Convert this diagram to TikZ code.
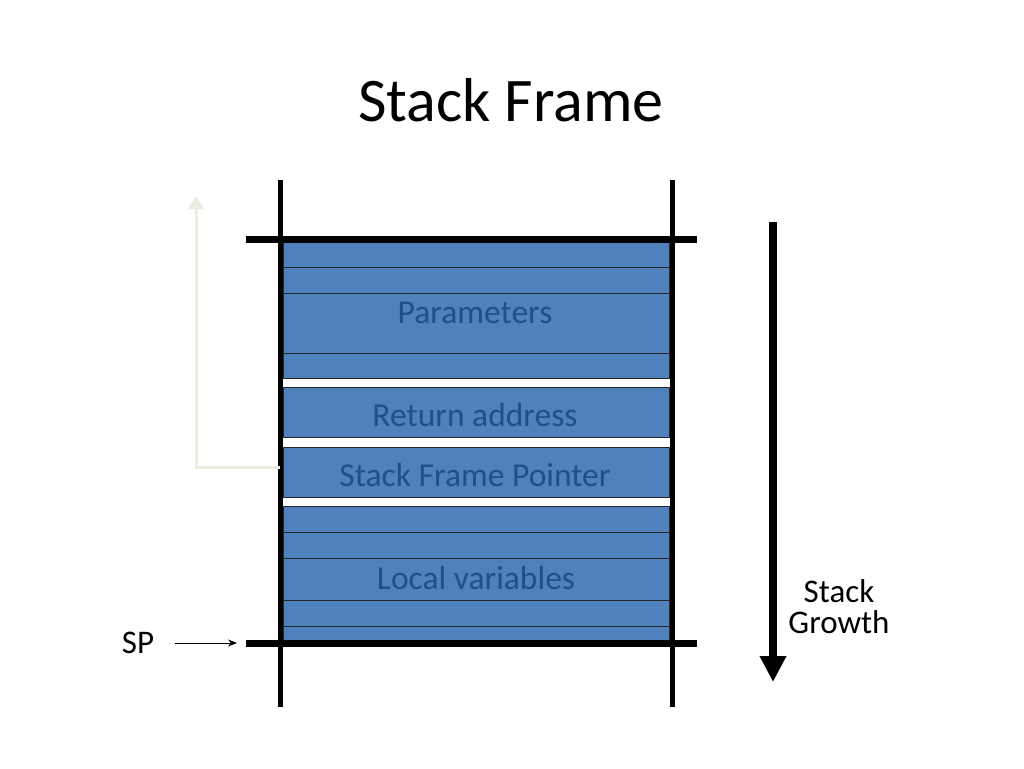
\documentclass[tikz,border=0pt]{standalone}
\usepackage{fontspec}
\setmainfont{Carlito}
\usetikzlibrary{arrows.meta}
\usetikzlibrary{positioning}
\definecolor{cellblue}{RGB}{79,129,189}
\definecolor{celltext}{RGB}{33,78,140}
\definecolor{linkcream}{RGB}{238,236,225}

\begin{document}
\begin{tikzpicture}[x=1pt,y=-1pt]
\useasboundingbox (0,0) rectangle (1024,768);
\node[font=\fontsize{62}{74}\selectfont] (title) at (511,100) {Stack Frame};

\draw[fill=cellblue,draw=black!85,line width=1pt] (283,242) rectangle (669,267);
\draw[fill=cellblue,draw=black!85,line width=1pt] (283,267) rectangle (669,293);
\draw[fill=cellblue,draw=black!85,line width=1pt] (283,293) rectangle (669,353);
\draw[fill=cellblue,draw=black!85,line width=1pt] (283,353) rectangle (669,378);
\draw[fill=cellblue,draw=black!85,line width=1pt] (283,387) rectangle (669,437);
\draw[fill=cellblue,draw=black!85,line width=1pt] (283,447) rectangle (669,497);
\draw[fill=cellblue,draw=black!85,line width=1pt] (283,506) rectangle (669,532);
\draw[fill=cellblue,draw=black!85,line width=1pt] (283,532) rectangle (669,558);
\draw[fill=cellblue,draw=black!85,line width=1pt] (283,558) rectangle (669,600);
\draw[fill=cellblue,draw=black!85,line width=1pt] (283,600) rectangle (669,626);
\draw[fill=cellblue,draw=black!85,line width=1pt] (283,626) rectangle (669,641);

\node[font=\fontsize{33.5}{40}\selectfont,text=celltext] (params) at (475,313) {Parameters};
\node[font=\fontsize{33.5}{40}\selectfont,text=celltext] (retaddr) at (475,415) {Return address};
\node[font=\fontsize{33.5}{40}\selectfont,text=celltext] (sfp) at (475,475) {Stack Frame Pointer};
\node[font=\fontsize{33.5}{40}\selectfont,text=celltext] (locals) at (476,578) {Local variables};

\draw[black,line width=5pt] (280,180) -- (280,707);
\draw[black,line width=5pt] (672,180) -- (672,707);
\draw[black,line width=7pt] (246,239) -- (697,239);
\draw[black,line width=7pt] (246,643) -- (697,643);

\coordinate (sfpleft) at (280,467);
\coordinate (linktop) at (196,196);
\draw[linkcream,line width=3pt,-{Triangle[width=15pt,length=13pt]}] (sfpleft) -| (linktop);

\node[font=\fontsize{33}{40}\selectfont] (sp) at (138,643) {SP};
\coordinate (sphead) at (237,643);
\draw[black,line width=1pt,-{Stealth[width=7pt,length=9pt]},shorten <=17pt] (sp) -- (sphead);

\coordinate (growtop) at (773,222);
\coordinate (growtip) at (773,682);
\draw[black,line width=8pt,-{Triangle[width=25pt,length=26pt]}] (growtop) -- (growtip);
\node[font=\fontsize{33}{31}\selectfont,align=center] (growth) at (839,607) {Stack\\Growth};

\end{tikzpicture}
\end{document}
